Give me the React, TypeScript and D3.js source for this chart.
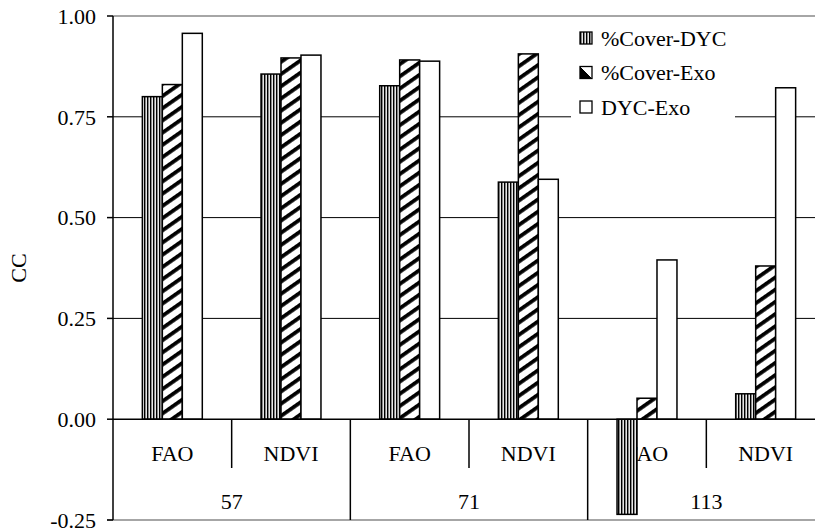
import React from "react";
import * as d3 from "d3";

const categories = ["57-FAO", "57-NDVI", "71-FAO", "71-NDVI", "113-FAO", "113-NDVI"];
const subLabels = ["FAO", "NDVI", "FAO", "NDVI", "FAO", "NDVI"];
const groupLabels = ["57", "71", "113"];
const seriesNames = ["%Cover-DYC", "%Cover-Exo", "DYC-Exo"];
const coverDYC = [0.80, 0.856, 0.827, 0.588, -0.236, 0.063];
const coverExo = [0.83, 0.896, 0.891, 0.906, 0.052, 0.38];
const dycExo = [0.957, 0.903, 0.888, 0.595, 0.395, 0.822];
const yTicks = [-0.25, 0, 0.25, 0.5, 0.75, 1.0];

const W = 815;
const H = 530;
const left = 113;
const right = 825;
const top = 16;
const bottom = 520;
const FONT = "'Liberation Serif', 'Times New Roman', serif";
const FS = 22;

export default function App() {
  const x0 = d3.scaleBand<string>().domain(categories).range([left, right]).padding(0);
  const x1 = d3
    .scaleBand<string>()
    .domain(seriesNames)
    .range([0, x0.bandwidth()])
    .paddingInner(0)
    .paddingOuter(1.47);
  const y = d3.scaleLinear().domain([-0.25, 1]).range([bottom, top]);
  const fills = ["url(#stripes)", "url(#hatch)", "#ffffff"];
  const seriesData = [coverDYC, coverExo, dycExo];
  const step = x0.step();

  return (
    <svg
      width={W}
      height={H}
      style={{ position: "absolute", left: 0, top: 0, background: "#fff", fontFamily: FONT }}
    >
      <defs>
        <pattern id="stripes" patternUnits="userSpaceOnUse" width={3} height={3}>
          <rect width={3} height={3} fill="#e8e8e8" />
          <rect x={0} width={1} height={3} fill="#000" />
          <rect x={1} width={1} height={3} fill="#888" />
        </pattern>
        <pattern
          id="hatch"
          patternUnits="userSpaceOnUse"
          width={10}
          height={10}
          patternTransform="rotate(-35)"
        >
          <rect width={10} height={10} fill="#fff" />
          <rect y={0} width={10} height={3.8} fill="#000" />
        </pattern>
        <linearGradient id="legHatch" x1="0" y1="1" x2="1" y2="0">
          <stop offset="0.5" stopColor="#000" />
          <stop offset="0.5" stopColor="#fff" />
        </linearGradient>
        <clipPath id="clip">
          <rect x={0} y={0} width={W} height={H} />
        </clipPath>
      </defs>
      <rect width={W} height={H} fill="#fff" />

      {/* gridlines */}
      {yTicks
        .filter((t) => t > 0 && t < 1)
        .map((t) => (
          <line key={"g" + t} x1={left} x2={W} y1={y(t)} y2={y(t)} stroke="#000" strokeWidth={1} />
        ))}
      {/* top and bottom borders */}
      <line x1={left} x2={W} y1={y(1)} y2={y(1)} stroke="#888" strokeWidth={1.5} />
      <line x1={left - 6} x2={W} y1={y(-0.25)} y2={y(-0.25)} stroke="#888" strokeWidth={1.5} />

      {/* y axis */}
      <line x1={left} x2={left} y1={y(1)} y2={y(-0.25)} stroke="#000" strokeWidth={1.5} />
      {yTicks.map((t) => (
        <g key={"t" + t}>
          <line x1={left - 6} x2={left} y1={y(t)} y2={y(t)} stroke="#000" strokeWidth={1.5} />
          <text x={96} y={y(t)} dy="0.35em" textAnchor="end" fontSize={FS} fill="#000">
            {t.toFixed(2)}
          </text>
        </g>
      ))}
      <text
        transform={`translate(26,268) rotate(-90)`}
        textAnchor="middle"
        fontSize={FS}
        fill="#000"
      >
        CC
      </text>

      {/* category labels */}
      {categories.map((c, i) => (
        <text
          key={"c" + c}
          x={(x0(c) as number) + x0.bandwidth() / 2}
          y={461}
          textAnchor="middle"
          fontSize={FS}
          fill="#000"
        >
          {subLabels[i]}
        </text>
      ))}
      {groupLabels.map((g, i) => (
        <text
          key={"gl" + g}
          x={(x0(categories[i * 2]) as number) + step}
          y={509}
          textAnchor="middle"
          fontSize={FS}
          fill="#000"
        >
          {g}
        </text>
      ))}
      {/* category dividers */}
      {categories.map((c, i) =>
        i === 0 ? null : (
          <line
            key={"d" + c}
            x1={x0(c) as number}
            x2={x0(c) as number}
            y1={y(0)}
            y2={i % 2 === 0 ? y(-0.25) : 468}
            stroke="#000"
            strokeWidth={1.5}
          />
        )
      )}

      {/* legend background */}
      <rect x={571} y={22} width={164} height={104} fill="#fff" />

      {/* bars */}
      <g clipPath="url(#clip)">
        {categories.map((c, i) =>
          seriesNames.map((s, j) => {
            const v = seriesData[j][i];
            const bx = (x0(c) as number) + (x1(s) as number);
            const y0 = y(0);
            const yv = y(v);
            return (
              <rect
                key={c + s}
                x={bx}
                y={Math.min(y0, yv)}
                width={x1.bandwidth()}
                height={Math.abs(yv - y0)}
                fill={fills[j]}
                stroke="#000"
                strokeWidth={1.5}
              />
            );
          })
        )}
      </g>

      {/* x axis at zero */}
      <line x1={left} x2={W} y1={y(0)} y2={y(0)} stroke="#000" strokeWidth={1.5} />

      {/* legend */}
      {seriesNames.map((s, j) => (
        <g key={"l" + s} transform={`translate(580,${38 + j * 34.5})`}>
          <rect
            x={0}
            y={-6}
            width={12}
            height={12}
            fill={j === 1 ? "url(#legHatch)" : fills[j]}
            stroke="#000"
            strokeWidth={1.3}
          />
          <text x={21} y={0} dy="0.35em" fontSize={FS} fill="#000">
            {s}
          </text>
        </g>
      ))}
    </svg>
  );
}
